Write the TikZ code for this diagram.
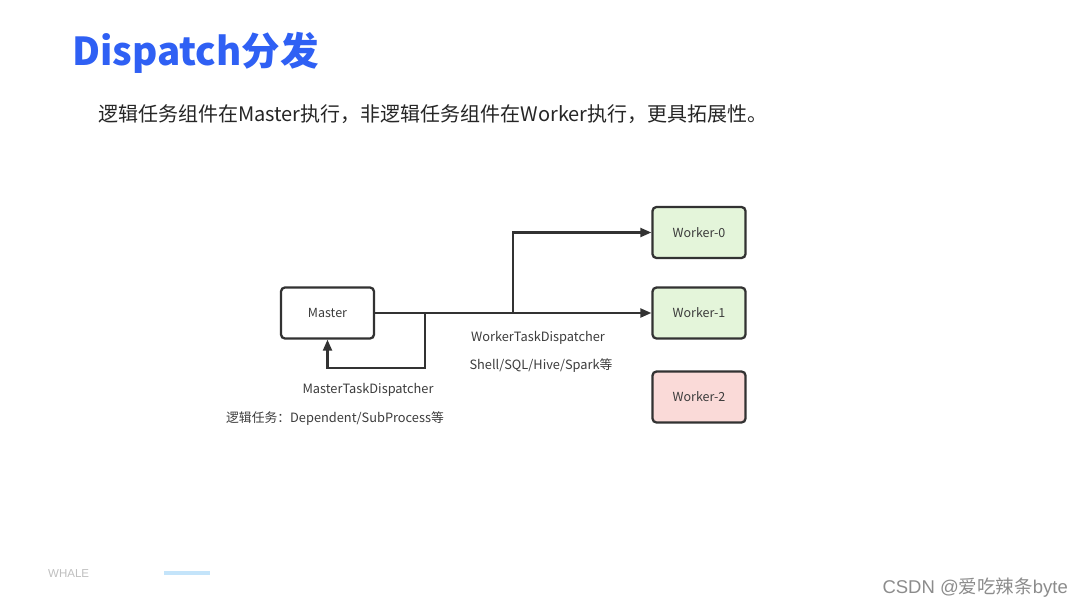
\documentclass[tikz,border=0pt]{standalone}
\usepackage{fontspec}
\setmainfont{Noto Sans CJK SC}
\newfontfamily\latinsans{Liberation Sans}
\usetikzlibrary{positioning,arrows.meta}
\definecolor{titleblue}{RGB}{47,96,244}
\definecolor{lineblack}{RGB}{50,50,50}
\definecolor{labelgray}{RGB}{60,60,60}
\definecolor{workgreen}{RGB}{228,245,218}
\definecolor{workred}{RGB}{250,218,216}
\definecolor{barblue}{RGB}{196,228,250}

\begin{document}
\begin{tikzpicture}[x=1pt,y=-1pt,
    box/.style={draw=lineblack,line width=2.3pt,rounded corners=4pt,
      minimum width=93pt,minimum height=51pt,inner sep=0pt,
      text=labelgray,font=\fontsize{12.5}{14}\selectfont},
    flow/.style={draw=lineblack,line width=2.1pt,-{Triangle[length=11pt,width=9pt]}},
    lbl/.style={text=labelgray,inner sep=0pt,font=\fontsize{12.8}{14}\selectfont}]
  \useasboundingbox (0,0) rectangle (1080,608);
  \fill[white] (0,0) rectangle (1080,608);
  % heading
  \node[anchor=west,inner sep=0pt,text=titleblue,font=\fontsize{38.5}{42}\selectfont\bfseries] (title) at (72,53) {Dispatch分发};
  \node[anchor=west,inner sep=0pt,text=black!85,font=\fontsize{20}{22}\selectfont] (intro) at (98,114)
    {逻辑任务组件在Master执行，非逻辑任务组件在Worker执行，更具拓展性。};
  % boxes
  \node[box] (master) at (327.5,313) {Master};
  \node[box,fill=workgreen] (worker0) at (699,232.5) {Worker-0};
  \node[box,fill=workgreen] (worker1) at (699,313) {Worker-1};
  \node[box,fill=workred] (worker2) at (699,397) {Worker-2};
  % connectors
  \coordinate (splitw) at (513,313);
  \coordinate (splitm) at (425,313);
  \draw[flow] (master.east) -- (worker1.west);
  \draw[flow] (splitw) |- (worker0.west);
  \draw[flow] (splitm) -- ++(0,55) -| (master.south);
  % labels
  \node[lbl] (wdisp) at (538,338) {WorkerTaskDispatcher};
  \node[lbl] (wtask) at (541,366) {Shell/SQL/Hive/Spark等};
  \node[lbl] (mdisp) at (368,390) {MasterTaskDispatcher};
  \node[lbl] (mtask) at (335,419) {逻辑任务：Dependent/SubProcess等};
  % footer
  \node[anchor=west,inner sep=0pt,text=black!25,font=\latinsans\fontsize{11.5}{13}\selectfont] (brand) at (48,573.5) {WHALE};
  \draw[barblue,line width=4pt] (164,572.5) -- (210,572.5);
  \node[anchor=east,inner sep=0pt,text=black!45,font=\latinsans\fontsize{18.5}{20}\selectfont] (mark) at (1068,588) {CSDN @{\fontspec{Noto Sans CJK SC}爱吃辣条}byte};
\end{tikzpicture}
\end{document}
